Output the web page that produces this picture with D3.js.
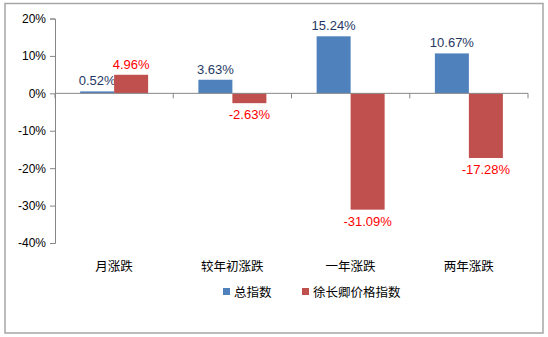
<!DOCTYPE html>
<html><head><meta charset="utf-8">
<script src="https://cdn.jsdelivr.net/npm/d3@7/dist/d3.min.js"></script>
<style>
body{margin:0;background:#fff;}
text{font-family:"Liberation Sans","Noto Sans CJK SC",sans-serif;}
</style></head>
<body>
<svg id="c" width="548" height="337"></svg>
<script>
const categories = ["月涨跌","较年初涨跌","一年涨跌","两年涨跌"];
const seriesNames = ["总指数","徐长卿价格指数"];
const totalIndex = [0.52, 3.63, 15.24, 10.67];
const xuIndex = [4.96, -2.63, -31.09, -17.28];
const yTicks = [20, 10, 0, -10, -20, -30, -40];
const colors = ["#4F81BD", "#C0504D"];
const labelColors = ["#1F3864", "#FF0000"];

(function(){
const svg = d3.select("#c");
svg.append("rect").attr("x",5).attr("y",3.5).attr("width",538).attr("height",329.5)
  .attr("fill","#fff").attr("stroke","#A6A6A6").attr("stroke-width",1.5);

const pLeft=55, pRight=528, pTop=18.5, pBottom=243;
const y = d3.scaleLinear().domain([-40,20]).range([pBottom, pTop]);
const x0 = d3.scaleBand().domain(categories).range([pLeft,pRight]).paddingInner(0).paddingOuter(0);
const barW = 34;
const x1 = d3.scaleBand().domain(seriesNames).range([x0.bandwidth()/2 - barW, x0.bandwidth()/2 + barW]);

const series = [totalIndex, xuIndex];
const g = svg.append("g");

const yAxis = d3.axisLeft(y).tickValues(yTicks).tickFormat(d => d + "%").tickSize(5).tickPadding(4);
const ya = svg.append("g").attr("transform",`translate(${pLeft},0)`).call(yAxis);
ya.select(".domain").attr("stroke","#868686");
ya.selectAll(".tick line").attr("stroke","#868686");
ya.selectAll(".tick text").attr("font-size",12).attr("fill","#000");

series.forEach((vals, si) => {
  g.selectAll(null).data(vals).enter().append("rect")
    .attr("x",(d,i)=>x0(categories[i]) + x1(seriesNames[si]))
    .attr("width",x1.bandwidth())
    .attr("y",d=>y(Math.max(0,d)))
    .attr("height",d=>Math.abs(y(d)-y(0)))
    .attr("fill",colors[si]);
  g.selectAll(null).data(vals).enter().append("text")
    .attr("x",(d,i)=>x0(categories[i]) + x1(seriesNames[si]) + x1.bandwidth()/2)
    .attr("y",d=> d>=0 ? y(d)-6 : y(d)+16)
    .attr("text-anchor","middle")
    .attr("font-size",13)
    .attr("fill",labelColors[si])
    .text(d=>d.toFixed(2)+"%");
});

const xa = svg.append("g").attr("transform",`translate(0,${y(0)})`);
xa.append("line").attr("x1",pLeft).attr("x2",pRight).attr("stroke","#868686");
const bounds = categories.map(c=>x0(c)).concat([pRight]);
xa.selectAll(null).data(bounds).enter().append("line")
  .attr("x1",d=>d).attr("x2",d=>d).attr("y1",0).attr("y2",5).attr("stroke","#868686");

svg.selectAll(null).data(categories).enter().append("text")
  .attr("x",d=>x0(d)+x0.bandwidth()/2).attr("y",271)
  .attr("text-anchor","middle").attr("font-size",12.5).attr("fill","#000")
  .attr("font-family","Noto Sans CJK SC")
  .text(d=>d);

const legX = [223, 302];
seriesNames.forEach((n,i)=>{
  svg.append("rect").attr("x",legX[i]).attr("y",288).attr("width",7).attr("height",7).attr("fill",colors[i]);
  svg.append("text").attr("x",legX[i]+11).attr("y",296.5).attr("font-size",12.5)
    .attr("font-family","Noto Sans CJK SC").attr("fill","#000").text(n);
});
})();
</script>
</body></html>
